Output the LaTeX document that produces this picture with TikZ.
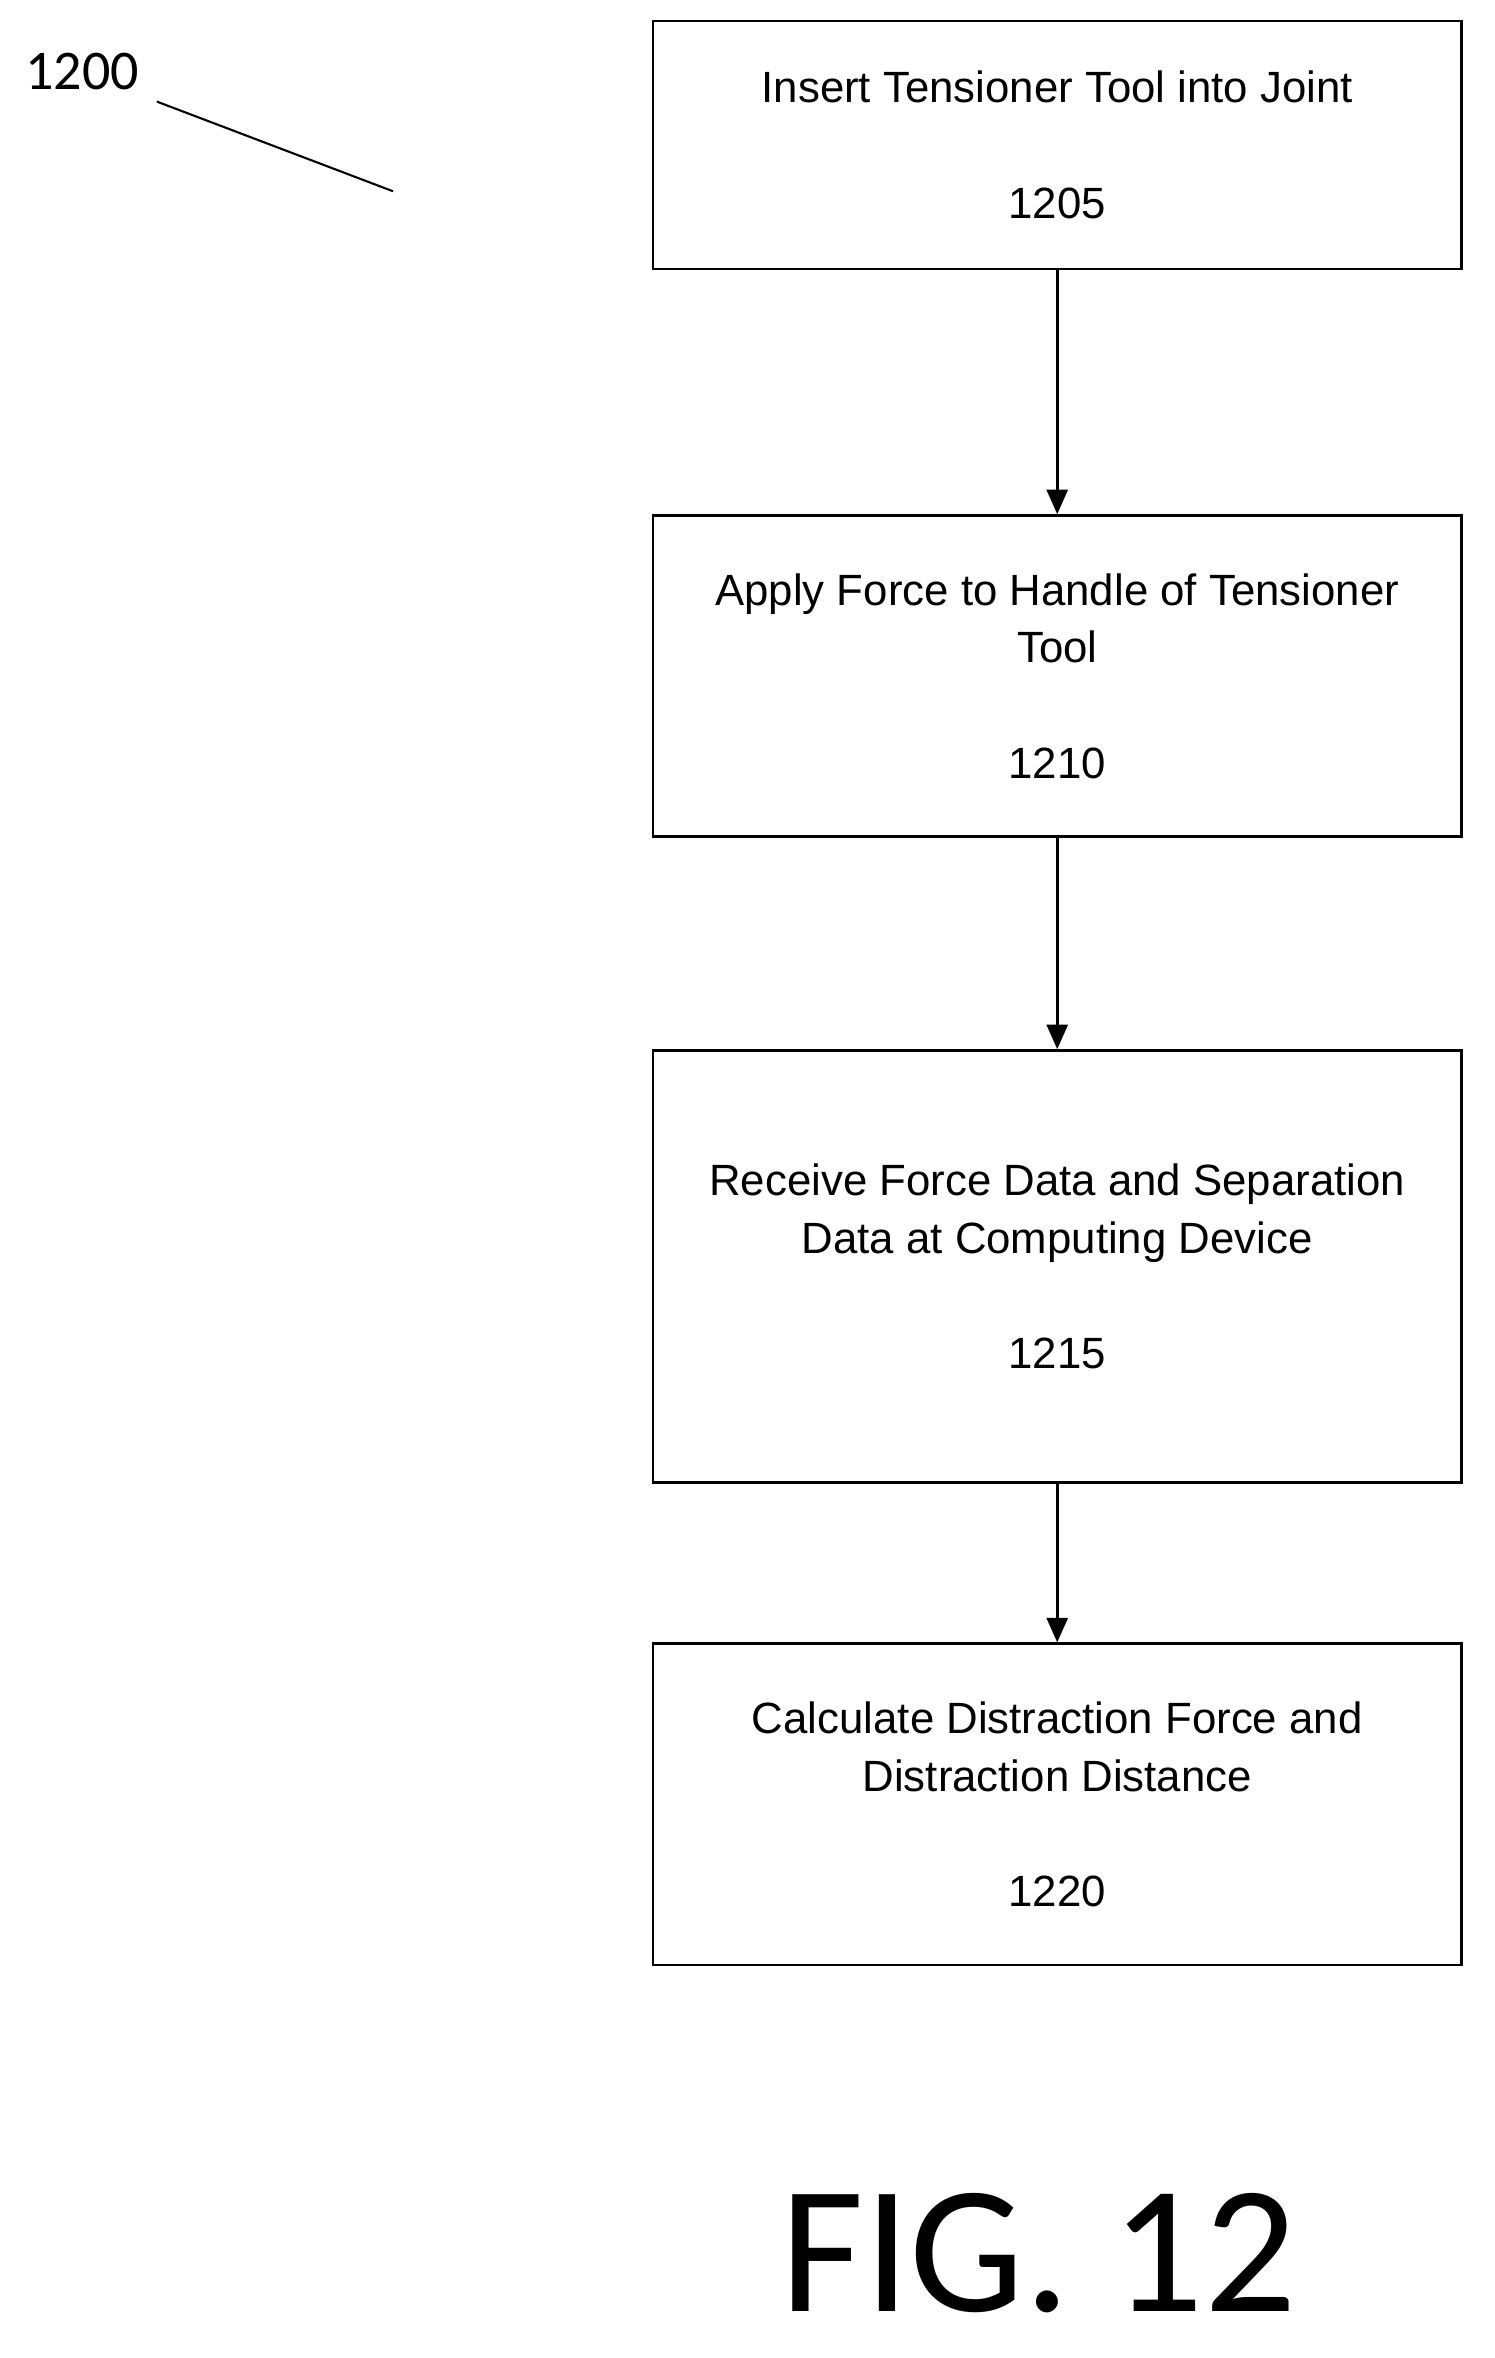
\documentclass[tikz,border=0pt]{standalone}
\usepackage{fontspec}
\setmainfont{Liberation Sans}
\newfontfamily\figfont{Carlito}
\usetikzlibrary{arrows.meta}
\begin{document}
\begin{tikzpicture}[x=0.03cm,y=-0.03cm,
  box/.style={draw,line width=1.5pt,rectangle,minimum width=541*0.03cm,inner sep=0pt,align=center,font=\fontsize{25}{33}\selectfont},
  arr/.style={line width=1.5pt,-{Triangle[length=14pt,width=12pt]}}]
\useasboundingbox (0,0) rectangle (1000,1578);
\node[box,minimum height=166*0.03cm] (b1) at (707.5,97) {Insert Tensioner Tool into Joint\\[33pt]1205};
\node[box,minimum height=215*0.03cm] (b2) at (707.5,452.5) {Apply Force to Handle of Tensioner\\Tool\\[33pt]1210};
\node[box,minimum height=289*0.03cm] (b3) at (707.5,847.5) {Receive Force Data and Separation\\Data at Computing Device\\[33pt]1215};
\node[box,minimum height=215*0.03cm] (b4) at (707.5,1207.5) {Calculate Distraction Force and\\Distraction Distance\\[33pt]1220};
\draw[arr] (b1.south) -- (b2.north);
\draw[arr] (b2.south) -- (b3.north);
\draw[arr] (b3.south) -- (b4.north);
\node[font=\figfont\fontsize{32}{32}\selectfont] (lbl) at (55,48) {1200};
\coordinate (le) at (263,128);
\draw[line width=1.2pt] (105,68) -- (le);
\node[font=\figfont\fontsize{104}{104}\selectfont] (fig) at (695,1508) {FIG. 12};
\end{tikzpicture}
\end{document}
